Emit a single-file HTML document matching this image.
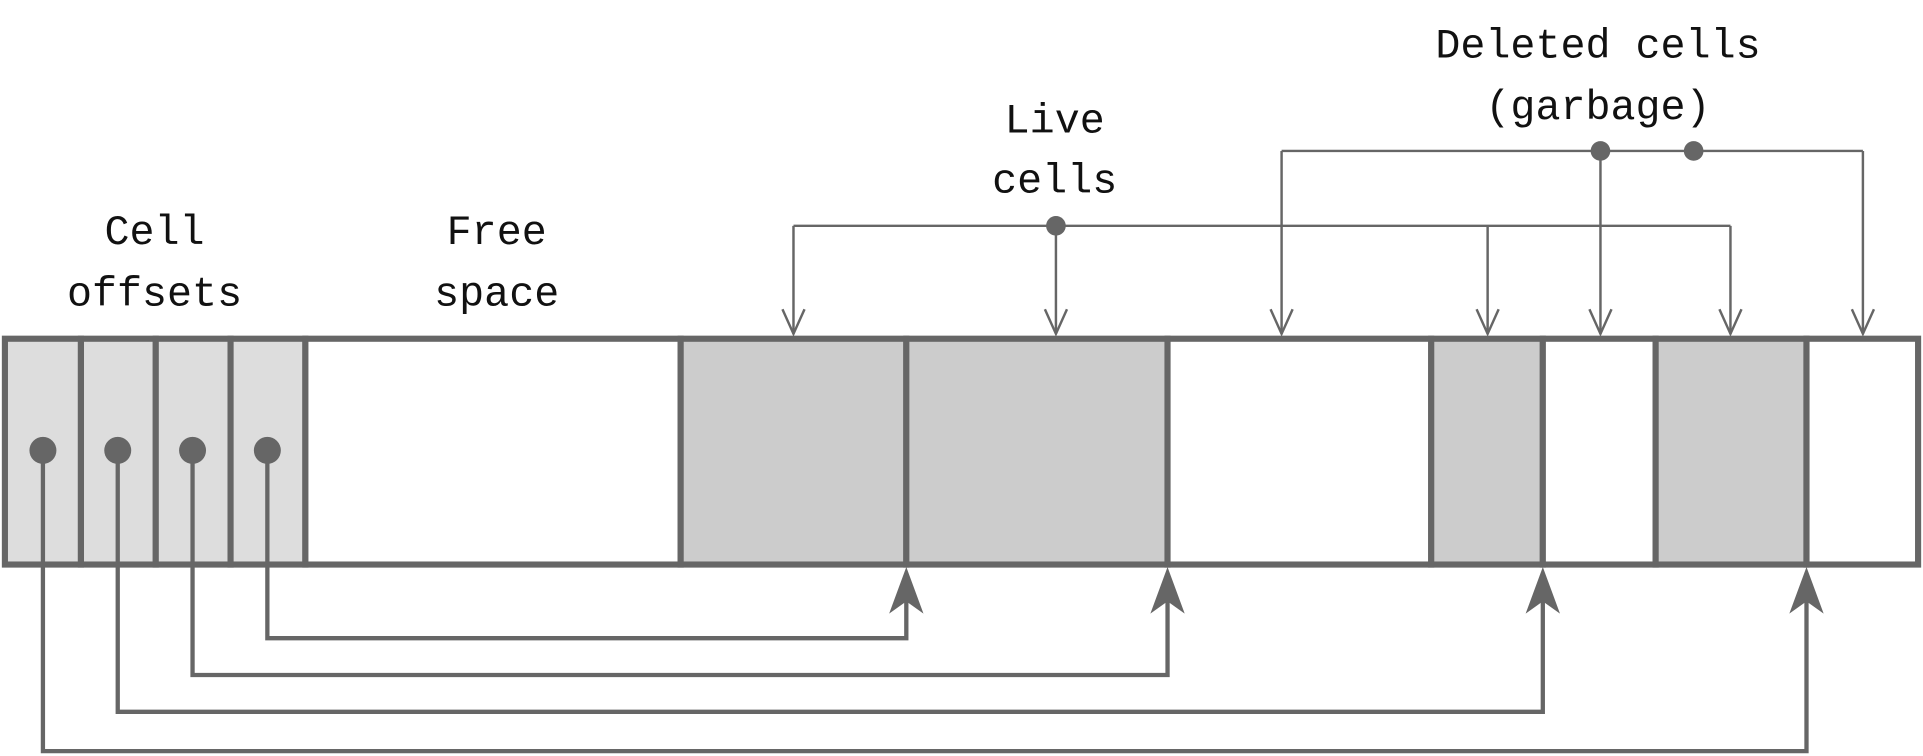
<!DOCTYPE html>
<html><head><meta charset="utf-8"><style>
html,body{margin:0;padding:0;background:#fff;}
svg{display:block;}
text{font-family:"Liberation Mono",monospace;font-size:34px;fill:#111;text-anchor:middle;}
</style></head><body>
<svg id="chart" width="1923" height="756" viewBox="0 0 1568 616" preserveAspectRatio="none" xmlns="http://www.w3.org/2000/svg">
<g id="cells"></g>
<g id="links"></g>
<text x="126" y="199">Cell</text>
<text x="126" y="249">offsets</text>
<text x="405" y="199">Free</text>
<text x="405" y="249">space</text>
<text x="860" y="108">Live</text>
<text x="860" y="157">cells</text>
<text x="1303" y="47">Deleted cells</text>
<text x="1303" y="97">(garbage)</text>
</svg>
<script>
const boundaries=[4,66,127,188,249,555,739,952,1167,1258,1350,1473,1564];
const fills=['#ddd','#ddd','#ddd','#ddd','#fff','#ccc','#ccc','#fff','#ccc','#fff','#ccc','#fff'];
const offsetDots=[35,96,157,218];
const offsetTargets=[1473,1258,952,739];
const offsetLineY=[612,580,550,520];
const liveArrows=[647,861,1213,1411];
const liveDot=861;
const deadArrows=[1045,1305,1519];
const deadDots=[1305,1381];
const NS='http://www.w3.org/2000/svg';
const C='#666',TOP=276,BOT=460;
const cells=document.getElementById('cells'),links=document.getElementById('links');
function mk(tag,attrs,parent){const e=document.createElementNS(NS,tag);for(const k in attrs)e.setAttribute(k,attrs[k]);parent.appendChild(e);return e;}
for(let i=0;i<fills.length;i++){
  const r=mk('rect',{x:boundaries[i],y:TOP,width:boundaries[i+1]-boundaries[i],height:BOT-TOP,fill:fills[i],stroke:C,'stroke-width':5},cells);
  
  
}
function downArrow(x,y){mk('path',{d:`M${x-9} ${y-20} L${x} ${y} L${x+9} ${y-20}`,fill:'none',stroke:C,'stroke-width':2},links);}
offsetDots.forEach((x,i)=>{
  const p=mk('path',{d:`M${x} 367 V${offsetLineY[i]} H${offsetTargets[i]} V470`,fill:'none',stroke:C,'stroke-width':3.5},links);
  
  
  const t=offsetTargets[i];
  mk('path',{d:`M${t} 462 L${t+14} 500 L${t} 490 L${t-14} 500 Z`,fill:C},links);
  const c=mk('circle',{cx:x,cy:367,r:11,fill:C},links);
  
  
});
const ly=184;
const ll=mk('line',{x1:Math.min(...liveArrows),x2:Math.max(...liveArrows),y1:ly,y2:ly,stroke:C,'stroke-width':2},links);


liveArrows.forEach(x=>{mk('line',{x1:x,x2:x,y1:ly,y2:272,stroke:C,'stroke-width':2},links);downArrow(x,272);});
const ld=mk('circle',{cx:liveDot,cy:ly,r:8,fill:C},links);


const dy=123;
const dl=mk('line',{x1:Math.min(...deadArrows),x2:Math.max(...deadArrows),y1:dy,y2:dy,stroke:C,'stroke-width':2},links);


deadArrows.forEach(x=>{mk('line',{x1:x,x2:x,y1:dy,y2:272,stroke:C,'stroke-width':2},links);downArrow(x,272);});
deadDots.forEach((x,i)=>{const d=mk('circle',{cx:x,cy:dy,r:8,fill:C},links);
  
  });
</script>
</body></html>
